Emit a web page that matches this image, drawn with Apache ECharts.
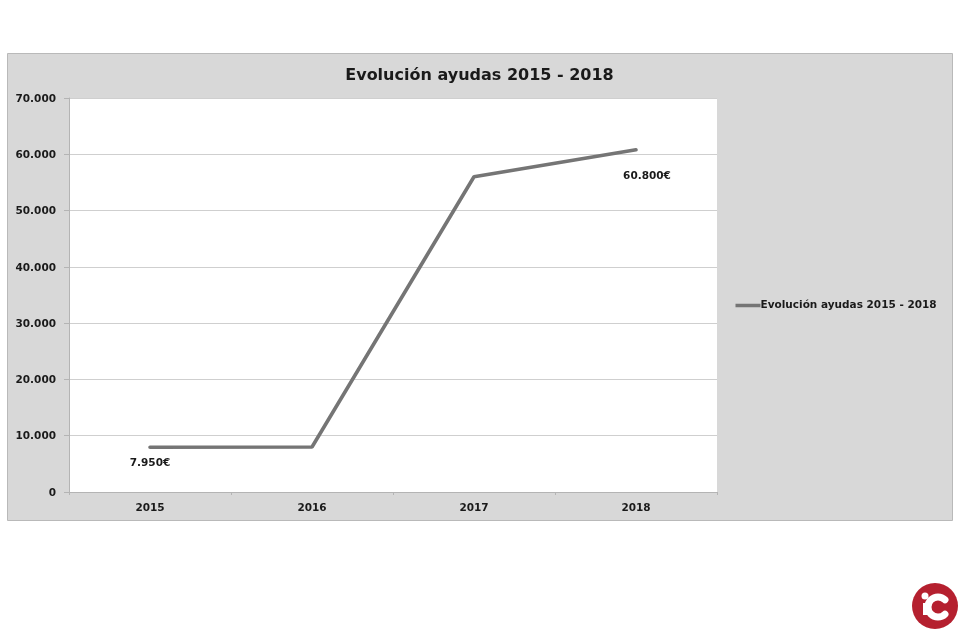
<!DOCTYPE html>
<html>
<head>
<meta charset="utf-8">
<style>
html, body { margin: 0; padding: 0; background: #fff; }
#chart { width: 960px; height: 630px; }
</style>
<script src="https://cdn.jsdelivr.net/npm/echarts@6/dist/echarts.min.js"></script>
</head>
<body>
<div id="chart"></div>
<script>
var titleText = 'Evolución ayudas 2015 - 2018';
var years = ['2015', '2016', '2017', '2018'];
var ayudas = [7950, 8000, 56000, 60800];
// solo estos puntos llevan etiqueta en el original
var labelled = { '2015': '7.950€', '2018': '60.800€' };

var FONT = '"DejaVu Sans", Verdana, sans-serif';
var chart = echarts.init(document.getElementById('chart'), null, { renderer: 'canvas' });

function fmtThousand(v) {
    return String(v).replace(/\B(?=(\d{3})+$)/g, '.');
}

var seriesData = years.map(function(y, i) {
    var item = { value: ayudas[i] };
    if (labelled[y]) {
        item.label = {
            show: true,
            position: 'bottom',
            distance: 10,
            offset: y === '2018' ? [11, 10] : [0, 0],
            formatter: labelled[y],
            fontFamily: FONT,
            fontWeight: 'bold',
            fontSize: 10.5,
            color: '#1a1a1a'
        };
    }
    return item;
});

var option = {
    animation: false,
    backgroundColor: '#fff',
    title: {
        text: titleText,
        left: 474.5,
        top: 63,
        textAlign: 'center',
        textStyle: { fontFamily: FONT, fontWeight: 'bold', fontSize: 16, color: '#1a1a1a' }
    },
    legend: {
        show: true,
        left: 730.5,
        top: 295,
        icon: 'rect',
        itemWidth: 25,
        itemHeight: 3.5,
        itemGap: 0,
        itemStyle: { color: '#757575' },
        textStyle: { fontFamily: FONT, fontWeight: 'bold', fontSize: 10.5, color: '#1a1a1a', padding: [0, 0, 0, -5] },
        data: [titleText]
    },
    grid: { left: 69, right: 243, top: 98, bottom: 138, show: true, backgroundColor: '#fff', borderWidth: 0, containLabel: false },
    xAxis: {
        type: 'category',
        data: years,
        boundaryGap: true,
        axisLine: { lineStyle: { color: '#b4b4b4', width: 1 } },
        axisTick: { show: true, length: 3, alignWithLabel: false, lineStyle: { color: '#b4b4b4' } },
        axisLabel: { margin: 11, fontFamily: FONT, fontWeight: 'bold', fontSize: 10.5, color: '#1a1a1a' }
    },
    yAxis: {
        type: 'value',
        min: 0,
        max: 70000,
        interval: 10000,
        axisLine: { show: true, lineStyle: { color: '#b4b4b4', width: 1 } },
        axisTick: { show: true, length: 5, lineStyle: { color: '#b4b4b4' } },
        splitLine: { show: true, lineStyle: { color: '#cfcfcf', width: 1 } },
        axisLabel: { margin: 13, verticalAlign: 'top', lineHeight: 12, padding: [-5, 0, 0, 0], fontFamily: FONT, fontWeight: 'bold', fontSize: 10.5, color: '#1a1a1a', formatter: fmtThousand }
    },
    series: [{
        name: titleText,
        type: 'line',
        data: seriesData,
        symbol: 'circle',
        symbolSize: 1,
        showSymbol: true,
        showAllSymbol: true,
        lineStyle: { color: '#757575', width: 3.6, cap: 'round' },
        itemStyle: { color: '#757575' }
    }],
    graphic: [
        // panel gris de fondo
        { type: 'rect', z: -10, silent: true, shape: { x: 7.5, y: 53.5, width: 945, height: 467 },
          style: { fill: '#d8d8d8', stroke: '#b9b9b9', lineWidth: 1 } },
        // logo
        { type: 'circle', z: 10, silent: true, shape: { cx: 935, cy: 606, r: 23 }, style: { fill: '#b5202f' } },
        { type: 'arc', z: 11, silent: true, shape: { cx: 938, cy: 607, r: 10, startAngle: 0.8, endAngle: -0.8, clockwise: true },
          style: { stroke: '#fff', fill: null, lineWidth: 7, lineCap: 'round' } },
        { type: 'circle', z: 11, silent: true, shape: { cx: 925, cy: 596, r: 3.5 }, style: { fill: '#fff' } },
        { type: 'rect', z: 11, silent: true, shape: { x: 923, y: 603, width: 6, height: 12 }, style: { fill: '#fff' } }
    ]
};
chart.setOption(option);
</script>
</body>
</html>
